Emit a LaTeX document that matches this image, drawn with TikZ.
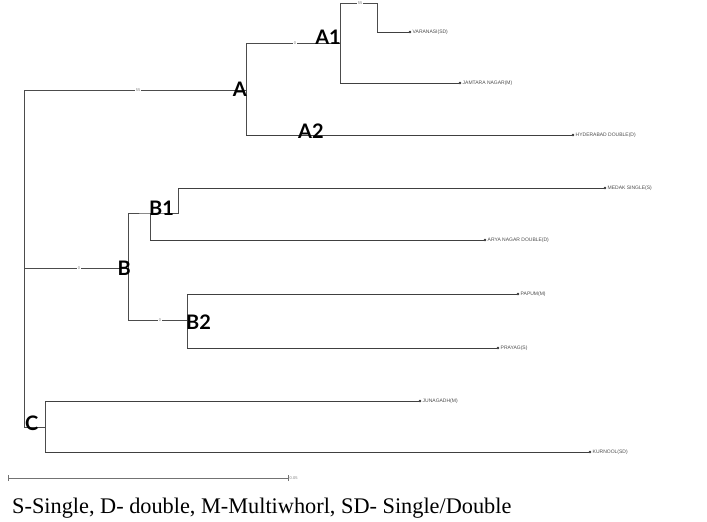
\documentclass[tikz,border=0pt]{standalone}
\usepackage{fontspec}
\setmainfont{Liberation Serif}
\newfontfamily\cladefont{Lato}
\newfontfamily\smallsans{Liberation Sans}
\begin{document}
\begin{tikzpicture}[x=1pt,y=-1pt,
  br/.style={draw=black!70, line width=0.8pt},
  lf/.style={draw=black!75, line width=1pt},
  tipdot/.style={circle, fill=black!80, inner sep=0pt, minimum size=2.6pt},
  leafname/.style={anchor=west, inner sep=1pt, text=black!70, font=\smallsans\fontsize{5}{6}\selectfont},
  clade/.style={font=\cladefont\bfseries\fontsize{20}{22}\selectfont, inner sep=0pt},
  bval/.style={font=\smallsans\fontsize{4}{4}\selectfont, text=black!50, inner sep=0.5pt, fill=white}]
\useasboundingbox (0,0) rectangle (707,522);
% junction points
\coordinate (Rt) at (24,90);
\coordinate (Rm) at (24,268);
\coordinate (Rb) at (24,427);
\coordinate (Aj) at (246,90);
\coordinate (Atop) at (246,43);
\coordinate (Abot) at (246,135);
\coordinate (A1j) at (340,43);
\coordinate (A1top) at (340,3);
\coordinate (A1bot) at (340,83);
\coordinate (A11j) at (377,3);
\coordinate (A11bot) at (377,32);
\coordinate (Bj) at (128,268);
\coordinate (Btop) at (128,213);
\coordinate (Bbot) at (128,320);
\coordinate (B1j) at (150,213);
\coordinate (B1bot) at (150,240);
\coordinate (B1up) at (178,213);
\coordinate (B1top) at (178,188);
\coordinate (B2j) at (187,320);
\coordinate (B2top) at (187,294);
\coordinate (B2bot) at (187,348);
\coordinate (Cj) at (45,427);
\coordinate (Ctop) at (45,401);
\coordinate (Cbot) at (45,452);
% leaf tips
\node[tipdot] (t1) at (410,32) {};
\node[tipdot] (t2) at (460,83) {};
\node[tipdot] (t3) at (573,135) {};
\node[tipdot] (t4) at (605,188) {};
\node[tipdot] (t5) at (485,240) {};
\node[tipdot] (t6) at (518,294) {};
\node[tipdot] (t7) at (498,348) {};
\node[tipdot] (t8) at (420,401) {};
\node[tipdot] (t9) at (590,452) {};
% leaf names
\node[leafname] (n1) at (t1.east) {VARANASI(SD)};
\node[leafname] (n2) at (t2.east) {JAMTARA NAGAR(M)};
\node[leafname] (n3) at (t3.east) {HYDERABAD DOUBLE(D)};
\node[leafname] (n4) at (t4.east) {MEDAK SINGLE(S)};
\node[leafname] (n5) at (t5.east) {ARYA NAGAR DOUBLE(D)};
\node[leafname] (n6) at (t6.east) {PAPUM(M)};
\node[leafname] (n7) at (t7.east) {PRAYAG(S)};
\node[leafname] (n8) at (t8.east) {JUNAGADH(M)};
\node[leafname] (n9) at (t9.east) {KURNOOL(SD)};
% tree
\draw[br] (Rt) -- (Rb);
\draw[br] (Rt) -- (Aj);
\draw[br] (Rm) -- (Bj);
\draw[br] (Rb) -- (Cj);
\draw[br] (Atop) -- (Abot);
\draw[br] (Atop) -- (A1j);
\draw[br] (A1top) -- (A1bot);
\draw[br] (A1top) -- (A11j) -- (A11bot);
\draw[lf] (A11bot) -- (t1);
\draw[lf] (A1bot) -- (t2);
\draw[lf] (Abot) -- (t3);
\draw[br] (Btop) -- (Bbot);
\draw[br] (Btop) -- (B1j) -- (B1up) -- (B1top);
\draw[br] (B1j) -- (B1bot);
\draw[lf] (B1top) -- (t4);
\draw[lf] (B1bot) -- (t5);
\draw[br] (Bbot) -- (B2j);
\draw[br] (B2top) -- (B2bot);
\draw[lf] (B2top) -- (t6);
\draw[lf] (B2bot) -- (t7);
\draw[br] (Ctop) -- (Cbot);
\draw[lf] (Ctop) -- (t8);
\draw[lf] (Cbot) -- (t9);
% branch values
\node[bval] (v1) at (138,90) {55};
\node[bval] (v2) at (295,43) {0};
\node[bval] (v3) at (360,3) {55};
\node[bval] (v4) at (79,268) {0};
\node[bval] (v5) at (160,320) {0};
% clade labels
\node[clade, anchor=south east] (lA) at (247,97) {A};
\node[clade, anchor=south east] (lA1) at (341,45) {A1};
\node[clade, anchor=south west] (lA2) at (298,139) {A2};
\node[clade, anchor=south east] (lB) at (131,276) {B};
\node[clade, anchor=south west] (lB1) at (149,216) {B1};
\node[clade, anchor=south west] (lB2) at (186,330) {B2};
\node[clade, anchor=south west] (lC) at (25,431) {C};
% scale bar
\coordinate (s0) at (8,478);
\coordinate (s1) at (288,478);
\draw[draw=black!55, line width=0.7pt] (s0) -- (s1);
\draw[draw=black!55, line width=0.7pt] ([yshift=-3]s0) -- ([yshift=3]s0);
\draw[draw=black!55, line width=0.7pt] ([yshift=-3]s1) -- ([yshift=3]s1);
\node[bval, anchor=west] (sv) at ([xshift=1]s1) {0.05};
% caption
\node[anchor=west, inner sep=0pt, font=\fontsize{22.3}{25}\selectfont] (cap) at (12,508) {S-Single, D- double, M-Multiwhorl, SD- Single/Double};
\end{tikzpicture}
\end{document}
